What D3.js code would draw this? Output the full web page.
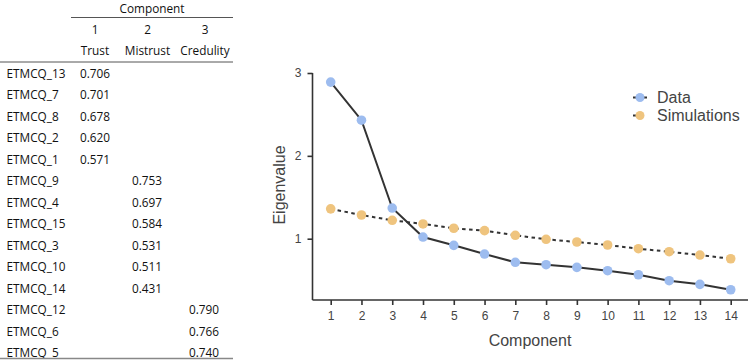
<!DOCTYPE html>
<html><head><meta charset="utf-8">
<script src="https://cdn.jsdelivr.net/npm/d3@7"></script>
<style>body{margin:0;background:#fff}svg{display:block}</style>
</head><body><svg id="c" width="750" height="363"></svg>
<script>
const components = [1,2,3,4,5,6,7,8,9,10,11,12,13,14];
const dataEigen = [2.89,2.43,1.37,1.02,0.92,0.815,0.715,0.686,0.654,0.614,0.565,0.493,0.449,0.384];
const simEigen = [1.36,1.286,1.222,1.178,1.126,1.097,1.041,0.993,0.96,0.924,0.879,0.843,0.803,0.758];
const yTicks = [1,2,3];
const seriesNames = ["Data","Simulations"];
const colNumbers = ["1","2","3"];
const colNames = ["Trust","Mistrust","Credulity"];
const itemNames = ["ETMCQ_13","ETMCQ_7","ETMCQ_8","ETMCQ_2","ETMCQ_1","ETMCQ_9","ETMCQ_4","ETMCQ_15","ETMCQ_3","ETMCQ_10","ETMCQ_14","ETMCQ_12","ETMCQ_6","ETMCQ_5"];
const itemColumn = [0,0,0,0,0,1,1,1,1,1,1,2,2,2];
const itemLoading = ["0.706","0.701","0.678","0.620","0.571","0.753","0.697","0.584","0.531","0.511","0.431","0.790","0.766","0.740"];

const svg = d3.select("#c");
const blue = "#9dbcef", orange = "#efc47e", ink = "#333";

// ---- Table ----
const tf = "'Open Sans', sans-serif";
const t = svg.append("g").attr("font-family", tf).attr("font-size", 11.8).attr("fill", "#111");
const colX = d3.scaleOrdinal().domain([0,1,2]).range([95,147.5,205]);
const valX = d3.scaleOrdinal().domain([0,1,2]).range([80,132,189]);
const rowY = d3.scaleLinear().domain([0,13]).range([73,352]);
t.append("text").attr("x",152).attr("y",8).attr("text-anchor","middle").attr("dominant-baseline","central").text("Component");
t.append("line").attr("x1",71).attr("x2",233).attr("y1",17.5).attr("y2",17.5).attr("stroke","#555").attr("stroke-width",1);
t.selectAll(".cn").data(colNumbers).join("text").attr("x",(d,i)=>colX(i)).attr("y",29).attr("text-anchor","middle").attr("dominant-baseline","central").text(d=>d);
t.selectAll(".cl").data(colNames).join("text").attr("x",(d,i)=>colX(i)).attr("y",50).attr("text-anchor","middle").attr("dominant-baseline","central").text(d=>d);
t.append("line").attr("x1",0).attr("x2",233).attr("y1",62).attr("y2",62).attr("stroke","#555").attr("stroke-width",1);
t.selectAll(".rn").data(itemNames).join("text").attr("x",6.5).attr("y",(d,i)=>rowY(i)).attr("dominant-baseline","central").text(d=>d);
t.selectAll(".rv").data(itemLoading).join("text").attr("x",(d,i)=>valX(itemColumn[i])).attr("y",(d,i)=>rowY(i)).attr("dominant-baseline","central").text(d=>d);
t.append("line").attr("x1",0).attr("x2",233).attr("y1",358.5).attr("y2",358.5).attr("stroke","#888").attr("stroke-width",1.5);

// ---- Chart ----
const cf = "'Liberation Sans', Arial, sans-serif";
const x = d3.scaleLinear().domain([1,14]).range([330.7,730.7]);
const y = d3.scaleLinear().domain([1,3]).range([238.7,73]);
const yBottom = 300, xLeft = 312.5;
const g = svg.append("g").attr("font-family", cf);

// axes
const xAxis = g.append("g").attr("transform",`translate(0,${yBottom})`)
  .call(d3.axisBottom(x).tickValues(components).tickFormat(d3.format("d")).tickSize(5).tickSizeOuter(0).tickPadding(6));
xAxis.select(".domain").attr("d",`M${xLeft},0H748`);
const yAxis = g.append("g").attr("transform",`translate(${xLeft},0)`)
  .call(d3.axisLeft(y).tickValues(yTicks).tickFormat(d3.format("d")).tickSize(5).tickSizeOuter(0).tickPadding(6));
yAxis.select(".domain").attr("d",`M0,${y(3)}V${yBottom}`);
[xAxis,yAxis].forEach(a=>{
  a.selectAll(".domain").attr("stroke",ink).attr("stroke-width",1.6);
  a.selectAll(".tick line").attr("stroke",ink).attr("stroke-width",1.6);
  a.selectAll(".tick text").attr("fill","#444").attr("font-size",12).attr("font-family",cf);
});

g.append("text").attr("x",530).attr("y",340).attr("text-anchor","middle").attr("dominant-baseline","central")
  .attr("font-size",16).attr("fill","#444").text("Component");
g.append("text").attr("transform","translate(279,185) rotate(-90)").attr("text-anchor","middle").attr("dominant-baseline","central")
  .attr("font-size",16).attr("fill","#444").text("Eigenvalue");

const line = d3.line().x((d,i)=>x(components[i])).y(d=>y(d));
g.append("path").datum(simEigen).attr("d",line).attr("fill","none").attr("stroke",ink).attr("stroke-width",2).attr("stroke-dasharray","3.5,3.5");
g.append("path").datum(dataEigen).attr("d",line).attr("fill","none").attr("stroke",ink).attr("stroke-width",2);
g.selectAll(".ps").data(simEigen).join("circle").attr("cx",(d,i)=>x(components[i])).attr("cy",d=>y(d)).attr("r",4.8).attr("fill",orange);
g.selectAll(".pd").data(dataEigen).join("circle").attr("cx",(d,i)=>x(components[i])).attr("cy",d=>y(d)).attr("r",4.8).attr("fill",blue);

// legend
const legY = d3.scaleOrdinal().domain(seriesNames).range([97.5,115.5]);
const legC = d3.scaleOrdinal().domain(seriesNames).range([blue,orange]);
const leg = g.selectAll(".leg").data(seriesNames).join("g").attr("transform",d=>`translate(640,${legY(d)})`);
leg.append("line").attr("x1",-7).attr("x2",d=>d==="Data"?7:0).attr("stroke",ink).attr("stroke-width",2);
leg.append("circle").attr("r",4.5).attr("fill",d=>legC(d));
leg.append("text").attr("x",17).attr("dominant-baseline","central").attr("font-size",16).attr("fill","#444").text(d=>d);
</script></body></html>
